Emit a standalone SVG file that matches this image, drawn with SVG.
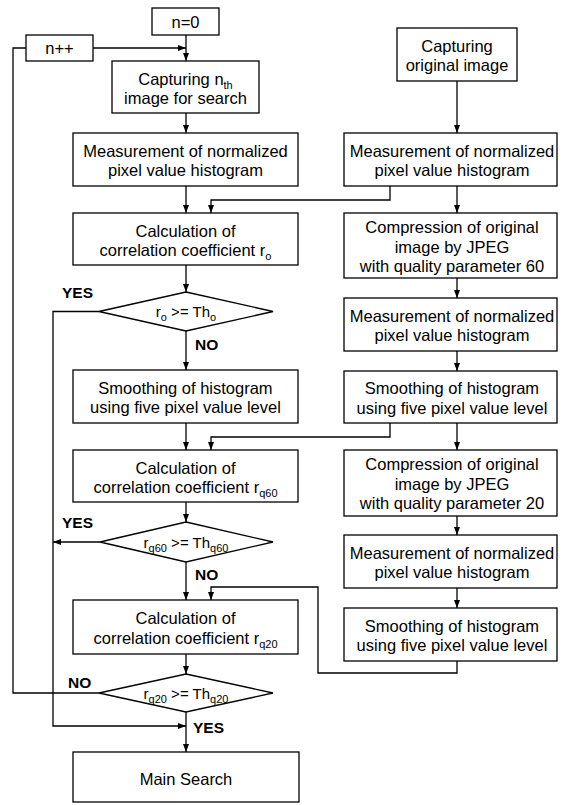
<svg xmlns="http://www.w3.org/2000/svg" width="562" height="805" viewBox="0 0 562 805">
<style>
.box{fill:#fff;stroke:#000;stroke-width:1.3}
.c{fill:none;stroke:#000;stroke-width:1.3}
text{font-family:"Liberation Sans",Arial,sans-serif;font-size:16.5px;fill:#000}
.t{text-anchor:middle}
.d{font-size:15px;text-anchor:middle}
.s{font-size:11px}
.l{font-weight:bold;font-size:15.5px}
</style>
<defs>
<marker id="ah" markerUnits="userSpaceOnUse" markerWidth="8" markerHeight="8" viewBox="0 0 8 8" refX="8" refY="4" orient="auto">
<path d="M0,1 L8,4 L0,7 Z" fill="#000"/>
</marker>
</defs>
<g id="connectors">
<path class="c" d="M186,35 V61" marker-end="url(#ah)"/>
<path class="c" d="M93,48 H186" marker-end="url(#ah)"/>
<path class="c" d="M186,113 V133" marker-end="url(#ah)"/>
<path class="c" d="M186,186 V213" marker-end="url(#ah)"/>
<path class="c" d="M390,186 V200 H211 V213" marker-end="url(#ah)"/>
<path class="c" d="M457,81 V133" marker-end="url(#ah)"/>
<path class="c" d="M457,186 V213" marker-end="url(#ah)"/>
<path class="c" d="M457,278 V298" marker-end="url(#ah)"/>
<path class="c" d="M457,351 V371" marker-end="url(#ah)"/>
<path class="c" d="M390,423 V437 H211 V450" marker-end="url(#ah)"/>
<path class="c" d="M457,423 V450" marker-end="url(#ah)"/>
<path class="c" d="M457,516 V535" marker-end="url(#ah)"/>
<path class="c" d="M457,588 V608" marker-end="url(#ah)"/>
<path class="c" d="M457,661 V673 H318 V587 H211 V600" marker-end="url(#ah)"/>
<path class="c" d="M186,265 V292" marker-end="url(#ah)"/>
<path class="c" d="M186,331 V370" marker-end="url(#ah)"/>
<path class="c" d="M186,423 V450" marker-end="url(#ah)"/>
<path class="c" d="M186,502 V522" marker-end="url(#ah)"/>
<path class="c" d="M100,542 H53" marker-end="url(#ah)"/>
<path class="c" d="M186,562 V600" marker-end="url(#ah)"/>
<path class="c" d="M186,654 V674" marker-end="url(#ah)"/>
<path class="c" d="M99,693 H13 V48 H26"/>
<path class="c" d="M99,311.5 H53 V726 H186" marker-end="url(#ah)"/>
<path class="c" d="M186,712 V752" marker-end="url(#ah)"/>
</g>
<g id="n0"><rect class="box" x="152" y="8" width="67" height="27"/><text class="t" x="185.5" y="28">n=0</text></g>
<g id="ninc"><rect class="box" x="26" y="35" width="67" height="26"/><text class="t" x="59.5" y="54">n++</text></g>
<g id="capture"><rect class="box" x="112" y="61" width="147" height="52"/><text class="t" x="185.5" y="84.5">Capturing n<tspan class="s" dy="4">th</tspan></text><text class="t" x="185.5" y="104">image for search</text></g>
<g id="meas1"><rect class="box" x="73" y="133" width="225" height="53"/><text class="t" x="185.5" y="156.5">Measurement of normalized</text><text class="t" x="185.5" y="176">pixel value histogram</text></g>
<g id="calc_o"><rect class="box" x="73" y="213" width="225" height="52"/><text class="t" x="185.5" y="236.5">Calculation of</text><text class="t" x="185.5" y="256">correlation coefficient r<tspan class="s" dy="4">o</tspan></text></g>
<g id="dec_o"><polygon class="box" points="186,292 273,311.5 186,331 99,311.5"/><text class="d" x="186" y="317">r<tspan class="s" dy="4">o</tspan><tspan dy="-4"> &gt;= Th</tspan><tspan class="s" dy="4">o</tspan></text></g>
<g id="smooth1"><rect class="box" x="73" y="370" width="225" height="53"/><text class="t" x="185.5" y="393.5">Smoothing of histogram</text><text class="t" x="185.5" y="413">using five pixel value level</text></g>
<g id="calc_q60"><rect class="box" x="73" y="450" width="225" height="52"/><text class="t" x="185.5" y="473.5">Calculation of</text><text class="t" x="185.5" y="493">correlation coefficient r<tspan class="s" dy="4">q60</tspan></text></g>
<g id="dec_q60"><polygon class="box" points="186,522 273,542 186,562 100,542"/><text class="d" x="186" y="548">r<tspan class="s" dy="4">q60</tspan><tspan dy="-4"> &gt;= Th</tspan><tspan class="s" dy="4">q60</tspan></text></g>
<g id="calc_q20"><rect class="box" x="73" y="600" width="225" height="54"/><text class="t" x="185.5" y="624">Calculation of</text><text class="t" x="185.5" y="643.5">correlation coefficient r<tspan class="s" dy="4">q20</tspan></text></g>
<g id="dec_q20"><polygon class="box" points="186,674 273,693 186,712 99,693"/><text class="d" x="186" y="699">r<tspan class="s" dy="4">q20</tspan><tspan dy="-4"> &gt;= Th</tspan><tspan class="s" dy="4">q20</tspan></text></g>
<g id="main"><rect class="box" x="73" y="752" width="226" height="50"/><text class="t" x="186" y="785">Main Search</text></g>
<g id="cap_orig"><rect class="box" x="397" y="28" width="120" height="53"/><text class="t" x="457" y="51.5">Capturing</text><text class="t" x="457" y="71">original image</text></g>
<g id="meas_r1"><rect class="box" x="344" y="133" width="213" height="53"/><text class="t" x="452" y="156.5">Measurement of normalized</text><text class="t" x="452" y="176">pixel value histogram</text></g>
<g id="comp60"><rect class="box" x="344" y="213" width="213" height="65"/><text class="t" x="452" y="233">Compression of original</text><text class="t" x="452" y="253">image by JPEG</text><text class="t" x="452" y="272">with quality parameter 60</text></g>
<g id="meas_r2"><rect class="box" x="344" y="298" width="213" height="53"/><text class="t" x="452" y="321.5">Measurement of normalized</text><text class="t" x="452" y="341">pixel value histogram</text></g>
<g id="smooth_r1"><rect class="box" x="344" y="371" width="213" height="52"/><text class="t" x="452" y="394">Smoothing of histogram</text><text class="t" x="452" y="413.5">using five pixel value level</text></g>
<g id="comp20"><rect class="box" x="344" y="450" width="213" height="66"/><text class="t" x="452" y="470">Compression of original</text><text class="t" x="452" y="490">image by JPEG</text><text class="t" x="452" y="509">with quality parameter 20</text></g>
<g id="meas_r3"><rect class="box" x="344" y="535" width="213" height="53"/><text class="t" x="452" y="558.5">Measurement of normalized</text><text class="t" x="452" y="578">pixel value histogram</text></g>
<g id="smooth_r2"><rect class="box" x="344" y="608" width="213" height="53"/><text class="t" x="452" y="631.5">Smoothing of histogram</text><text class="t" x="452" y="651">using five pixel value level</text></g>
<g id="labels">
<text class="l" x="62" y="298">YES</text>
<text class="l" x="195" y="350">NO</text>
<text class="l" x="62" y="528">YES</text>
<text class="l" x="195" y="580">NO</text>
<text class="l" x="68" y="688">NO</text>
<text class="l" x="193" y="733">YES</text>
</g>
</svg>
